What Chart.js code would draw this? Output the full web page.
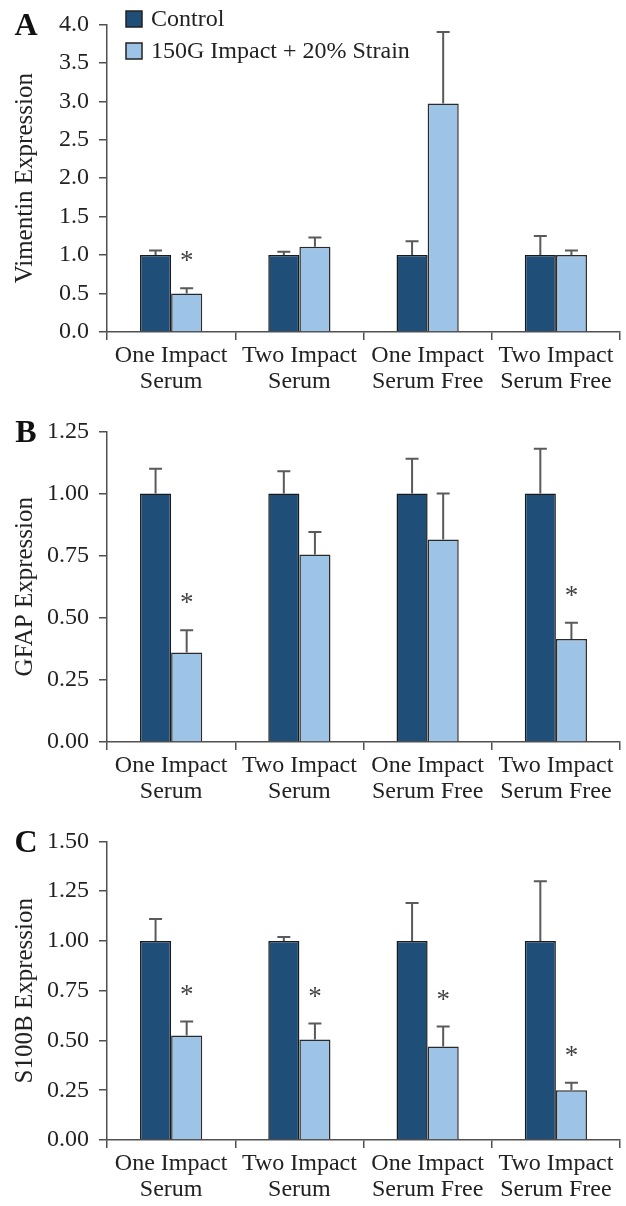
<!DOCTYPE html>
<html>
<head>
<meta charset="utf-8">
<script src="https://cdn.jsdelivr.net/npm/chart.js@4.4.1/dist/chart.umd.min.js"></script>
<style>
    html, body { margin: 0; padding: 0; background: #fff; overflow: hidden; }
    .panel { position: absolute; left: 0; width: 626px; }
</style>
</head>
<body>
<div class="panel" style="top:0;height:407px"><canvas id="chartA"></canvas></div>
<div class="panel" style="top:407px;height:410px"><canvas id="chartB"></canvas></div>
<div class="panel" style="top:817px;height:398px"><canvas id="chartC"></canvas></div>
<script>
// ==================== DATA ====================
var categories = [['One Impact', 'Serum'], ['Two Impact', 'Serum'], ['One Impact', 'Serum Free'], ['Two Impact', 'Serum Free']];
var seriesNames = ['Control', '150G Impact + 20% Strain'];

// A - Vimentin
var vimControl = [1.00, 1.00, 1.00, 1.00];
var vimControlErr = [0.06, 0.045, 0.18, 0.25];
var vimImpact = [0.50, 1.11, 2.97, 1.00];
var vimImpactErr = [0.07, 0.12, 0.93, 0.06];
var vimSig = [true, false, false, false];
var vimTicks = [0, 4, 0.5];

// B - GFAP
var gfapControl = [1.00, 1.00, 1.00, 1.00];
var gfapControlErr = [0.10, 0.09, 0.14, 0.18];
var gfapImpact = [0.36, 0.755, 0.815, 0.415];
var gfapImpactErr = [0.09, 0.09, 0.185, 0.065];
var gfapSig = [true, false, false, true];
var gfapTicks = [0, 1.25, 0.25];

// C - S100B
var s100Control = [1.00, 1.00, 1.00, 1.00];
var s100ControlErr = [0.11, 0.02, 0.19, 0.30];
var s100Impact = [0.525, 0.505, 0.47, 0.25];
var s100ImpactErr = [0.07, 0.08, 0.10, 0.038];
var s100Sig = [true, true, true, true];
var s100Ticks = [0, 1.5, 0.25];

// ==================== STYLE ====================
var FONT = '"Liberation Serif", "Times New Roman", serif';
var darkBlue = '#1f4e79';
var lightBlue = '#9dc3e6';
var axisColor = '#505050';
var textColor = '#222222';

// error bars + asterisks + panel letter + legend
var extrasPlugin = {
    id: 'extras',
    afterDatasetsDraw: function(chart) {
        var ctx = chart.ctx;
        var yScale = chart.scales.y;
        var opts = chart.options.plugins.extras;
        ctx.save();
        chart.data.datasets.forEach(function(ds, i) {
            var meta = chart.getDatasetMeta(i);
            meta.data.forEach(function(bar, j) {
                var top = ds.data[j] + ds.errors[j];
                var yErr = yScale.getPixelForValue(top);
                ctx.strokeStyle = '#5a5a5a';
                ctx.lineWidth = 2;
                ctx.beginPath();
                ctx.moveTo(bar.x, bar.y);
                ctx.lineTo(bar.x, yErr);
                ctx.moveTo(bar.x - 6.5, yErr);
                ctx.lineTo(bar.x + 6.5, yErr);
                ctx.stroke();
                if (ds.sig && ds.sig[j]) {
                    ctx.fillStyle = '#444444';
                    ctx.font = '27px ' + FONT;
                    ctx.textAlign = 'center';
                    ctx.textBaseline = 'alphabetic';
                    ctx.fillText('*', bar.x, yErr - 19);
                }
            });
        });

        // panel letter
        ctx.fillStyle = '#111';
        ctx.font = 'bold 32px ' + FONT;
        ctx.textAlign = 'center';
        ctx.textBaseline = 'middle';
        ctx.fillText(opts.letter, 26, chart.chartArea.top + 2);

        // legend (panel A only)
        if (opts.legend) {
            var lx = 126;
            chart.data.datasets.forEach(function(ds, i) {
                var cy = 19 + i * 32;
                ctx.fillStyle = ds.backgroundColor;
                ctx.fillRect(lx, cy - 8, 16, 16);
                ctx.strokeStyle = '#222';
                ctx.lineWidth = 1.5;
                ctx.strokeRect(lx, cy - 8, 16, 16);
                ctx.fillStyle = textColor;
                ctx.font = '24px ' + FONT;
                ctx.textAlign = 'left';
                ctx.textBaseline = 'middle';
                ctx.fillText(ds.label, lx + 25, cy + 1);
            });
        }
        ctx.restore();
    }
};

function makePanel(canvasId, title, control, controlErr, impact, impactErr, sig, ticks, decimals, letter, padTop, showLegend) {
    return new Chart(document.getElementById(canvasId), {
        type: 'bar',
        data: {
            labels: categories,
            datasets: [{
                label: seriesNames[0],
                data: control,
                errors: controlErr,
                backgroundColor: darkBlue,
                borderColor: '#1a1a1a',
                borderWidth: 1.5,
                categoryPercentage: 0.485,
                barPercentage: 1.0
            }, {
                label: seriesNames[1],
                data: impact,
                errors: impactErr,
                sig: sig,
                backgroundColor: lightBlue,
                borderColor: '#2a2a2a',
                borderWidth: 1.5,
                categoryPercentage: 0.485,
                barPercentage: 1.0
            }]
        },
        options: {
            responsive: true,
            maintainAspectRatio: false,
            animation: false,
            layout: { padding: { top: padTop, right: 6, left: 0, bottom: 0 } },
            plugins: {
                legend: { display: false },
                tooltip: { enabled: false },
                extras: { letter: letter, legend: showLegend }
            },
            scales: {
                x: {
                    afterFit: function(scale) { scale.height = 75; },
                    grid: { display: true, drawOnChartArea: false, offset: true, color: axisColor, lineWidth: 1.5, tickLength: 8 },
                    border: { display: true, color: axisColor, width: 1.5 },
                    ticks: { color: textColor, font: { family: FONT, size: 24, lineHeight: 1.08 }, padding: 3, maxRotation: 0, autoSkip: false }
                },
                y: {
                    min: ticks[0],
                    max: ticks[1],
                    afterFit: function(scale) { scale.width = 107; },
                    grid: { display: true, drawOnChartArea: false, color: axisColor, lineWidth: 1.5, tickLength: 8 },
                    border: { display: true, color: axisColor, width: 1.5 },
                    ticks: {
                        stepSize: ticks[2],
                        color: textColor,
                        padding: 10,
                        font: { family: FONT, size: 24 },
                        callback: function(v) { return Number(v).toFixed(decimals); }
                    },
                    title: { display: true, text: title, color: textColor, font: { family: FONT, size: 25 }, padding: { top: 10, bottom: 0 } }
                }
            }
        },
        plugins: [extrasPlugin]
    });
}

makePanel('chartA', 'Vimentin Expression', vimControl, vimControlErr, vimImpact, vimImpactErr, vimSig, vimTicks, 1, 'A', 20, true);
makePanel('chartB', 'GFAP Expression', gfapControl, gfapControlErr, gfapImpact, gfapImpactErr, gfapSig, gfapTicks, 2, 'B', 23, false);
makePanel('chartC', 'S100B Expression', s100Control, s100ControlErr, s100Impact, s100ImpactErr, s100Sig, s100Ticks, 2, 'C', 15, false);
</script>
</body>
</html>
